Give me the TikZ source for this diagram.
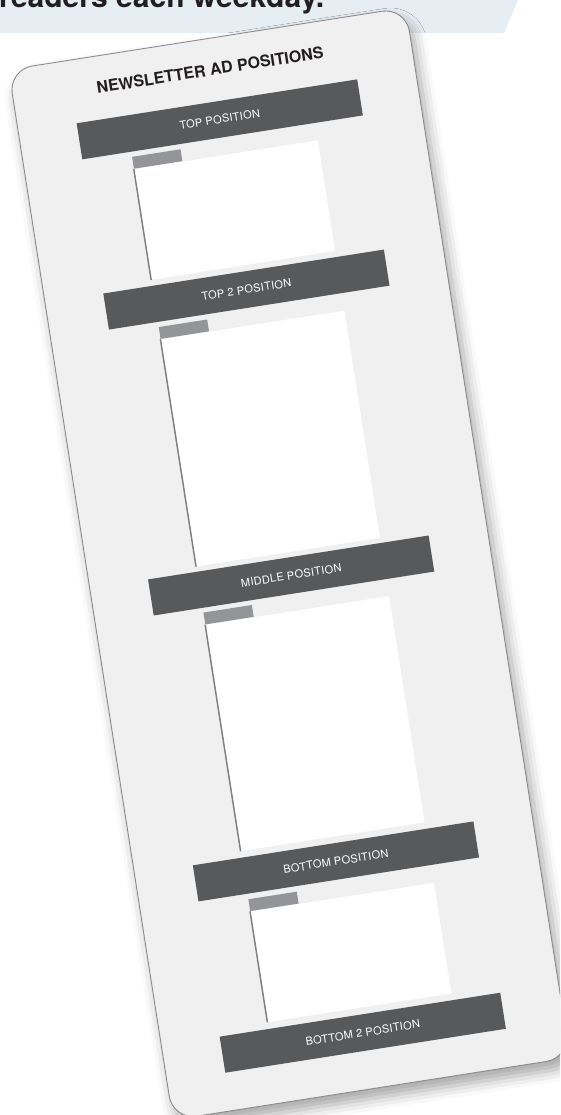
\documentclass[tikz,border=0pt]{standalone}
\usepackage{fontspec}
\setmainfont{TeX Gyre Heros}
\usepackage{tikz}
\usetikzlibrary{shadows.blur}

\definecolor{bandblue}{HTML}{E6EDF3}
\definecolor{cardgray}{HTML}{F0F0F0}
\definecolor{cardline}{HTML}{8C8C8C}
\definecolor{bardark}{HTML}{58595B}
\definecolor{tabgray}{HTML}{939598}
\definecolor{edgegray}{HTML}{808184}
\definecolor{headtext}{HTML}{231F20}

\begin{document}
\begin{tikzpicture}[
    x=1pt, y=-1pt,
    card/.style={draw=cardline, line width=0.9pt, fill=cardgray, rounded corners=24pt,
        blur shadow={shadow xshift=5pt, shadow yshift=-9pt, shadow blur radius=12pt, shadow opacity=35}},
    bar/.style={fill=bardark, minimum width=284pt, minimum height=36.5pt, inner sep=0pt,
        transform shape, text=white, font=\fontsize{11}{13}\selectfont\addfontfeature{LetterSpace=3}},
    adbox/.style={fill=white, minimum width=186pt, inner sep=0pt, transform shape},
    tab/.style={fill=tabgray, minimum width=49pt, minimum height=12pt, inner sep=0pt,
        transform shape, anchor=south west},
    boxedge/.style={draw=edgegray, line width=1.5pt}
]

\useasboundingbox (0,0) rectangle (560,1115);
\clip (0,0) rectangle (560,1115);

% --- Page band with cut-off lead line ---
\fill[bandblue] (0,0) -- (518,0) -- (504,33) -- (0,33) -- cycle;
\node[anchor=base west, inner sep=0pt, text=headtext, font=\fontsize{30}{36}\selectfont\bfseries]
    (lead) at (-1,8) {readers each weekday.};

\begin{scope}[shift={(13,66)}, rotate=8.9]

% --- Card ---
\draw[card] (-5,3) rectangle (397,1066);
\node[transform shape, text=headtext, font=\fontsize{16}{19}\selectfont\bfseries]
    (title) at (194,34.4) {NEWSLETTER AD POSITIONS};

% --- Position bars ---
\node[bar] (bar1) at (196,84.7)   {TOP POSITION};
\node[bar] (bar2) at (196,257)    {TOP 2 POSITION};
\node[bar] (bar3) at (196,546.4)  {MIDDLE POSITION};
\node[bar] (bar4) at (196,835.8)  {BOTTOM POSITION};
\node[bar] (bar5) at (196,1009.2) {BOTTOM 2 POSITION};

% --- Ad boxes ---
\node[adbox, minimum height=112pt] (box1) at (196.6,176.6) {};
\node[tab] (tab1) at (box1.north west) {};
\draw[boxedge] (box1.north west) -- (box1.south west);

\node[adbox, minimum height=230pt] (box2) at (196.6,407.9) {};
\node[tab] (tab2) at (box2.north west) {};
\draw[boxedge] (box2.north west) -- (box2.south west);

\node[adbox, minimum height=229pt] (box3) at (196.6,696.4) {};
\node[tab] (tab3) at (box3.north west) {};
\draw[boxedge] (box3.north west) -- (box3.south west);

\node[adbox, minimum height=112pt] (box4) at (196.6,928.1) {};
\node[tab] (tab4) at (box4.north west) {};
\draw[boxedge] (box4.north west) -- (box4.south west);

\end{scope}

\end{tikzpicture}
\end{document}
